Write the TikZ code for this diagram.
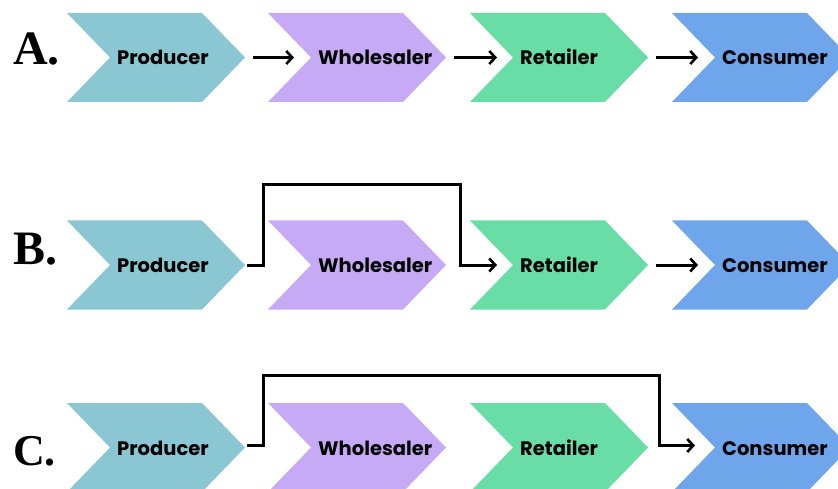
\documentclass[tikz,border=0pt]{standalone}
\usepackage{fontspec}
\setmainfont{Liberation Serif}
\newfontfamily\chevfont{Poppins}[UprightFont={* Bold},BoldFont={* Bold}]
\usetikzlibrary{arrows.meta}
\definecolor{cprod}{RGB}{139,199,210}
\definecolor{cwhole}{RGB}{199,170,246}
\definecolor{cretail}{RGB}{105,221,166}
\definecolor{ccons}{RGB}{110,165,235}
\tikzset{
  chevtext/.style={anchor=base west,inner sep=0pt,font=\chevfont\fontsize{19.5}{20}\selectfont},
  rowlabel/.style={anchor=base west,inner sep=0pt,font=\bfseries\fontsize{48}{48}\selectfont},
  conn/.style={line width=3pt,-{Straight Barb[length=6pt,width=13pt,line width=2.6pt]},line join=miter},
}
% #1 left x, #2 top y, #3 colour, #4 name, #5 text
\newcommand\chevshape[5]{%
  \fill[#3] (#1,#2) -- ++(135,0) -- ++(43,44.5) -- ++(-43,44.5) -- ++(-135,0) -- ++(43,-44.5) -- cycle;
  \coordinate (#4-tip) at ({#1+178},{#2+44.5});
  \coordinate (#4-notch) at ({#1+43},{#2+44.5});
  \node[chevtext] (#4) at ({#1+50},{#2+52}) {#5};
}
\begin{document}
\begin{tikzpicture}[x=1pt,y=-1pt]
\useasboundingbox (0,0) rectangle (838,489);
\begin{scope}
\clip (0,0) rectangle (838,489);
% Row A
\chevshape{67}{13}{cprod}{ap}{Producer}
\chevshape{268}{13}{cwhole}{aw}{Wholesaler}
\chevshape{470}{13}{cretail}{ar}{Retailer}
\chevshape{672}{13}{ccons}{ac}{Consumer}
% Row B
\chevshape{67}{220.5}{cprod}{bp}{Producer}
\chevshape{268}{220.5}{cwhole}{bw}{Wholesaler}
\chevshape{470}{220.5}{cretail}{br}{Retailer}
\chevshape{672}{220.5}{ccons}{bc}{Consumer}
% Row C
\chevshape{67}{403}{cprod}{cp}{Producer}
\chevshape{268}{403}{cwhole}{cw}{Wholesaler}
\chevshape{470}{403}{cretail}{cr}{Retailer}
\chevshape{672}{403}{ccons}{cc}{Consumer}
\end{scope}
% Row labels
\node[rowlabel] (la) at (13,65) {A.};
\node[rowlabel] (lb) at (13,265) {B.};
\node[rowlabel,font=\bfseries\fontsize{44}{44}\selectfont] (lc) at (13,465) {C.};
% Row A connectors
\draw[conn] ([xshift=8pt]ap-tip) -- ([xshift=-17pt]aw-notch);
\draw[conn] ([xshift=8pt]aw-tip) -- ([xshift=-16pt]ar-notch);
\draw[conn] ([xshift=8pt]ar-tip) -- ([xshift=-17pt]ac-notch);
% Row B connectors
\draw[conn] ([xshift=2pt]bp-tip) -- ++(16,0) |- (460,185) |- ([xshift=-16pt]br-notch);
\draw[conn] ([xshift=8pt]br-tip) -- ([xshift=-17pt]bc-notch);
% Row C connector
\draw[conn] ([xshift=2pt,yshift=2pt]cp-tip) -- ++(16,0) |- (659,375) |- ([xshift=-20pt,yshift=2pt]cc-notch);
\end{tikzpicture}
\end{document}
